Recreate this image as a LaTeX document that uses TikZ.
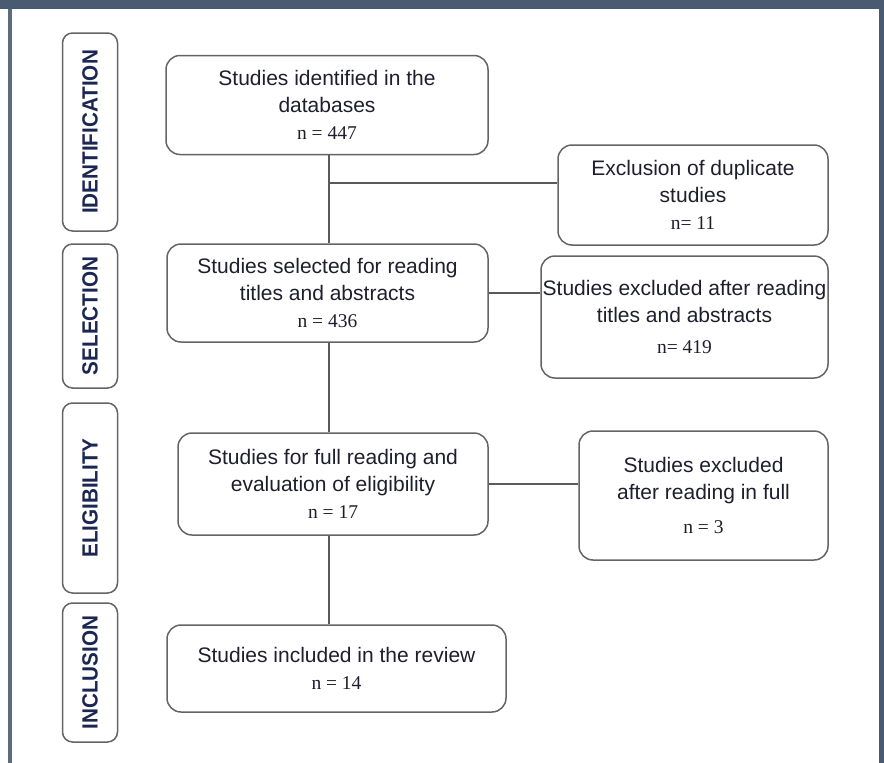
\documentclass[tikz,border=0pt]{standalone}
\usepackage{fontspec}
\setmainfont{Liberation Sans}
\newfontfamily\numfont{Liberation Serif}
\usepackage{graphicx}
\usetikzlibrary{positioning}

\definecolor{framecol}{RGB}{74,90,112}
\definecolor{edgecol}{RGB}{100,100,100}
\definecolor{inkcol}{RGB}{30,30,45}
\definecolor{phasecol}{RGB}{28,38,82}

\newcommand{\nval}[1]{{\numfont\fontsize{19.5}{23}\selectfont #1}}
\newcommand{\phasetxt}[1]{\scalebox{0.94}[1]{#1}}

\begin{document}
\begin{tikzpicture}[x=1pt,y=-1pt]
  \tikzset{BoxStyle/.style   = {shape          = rectangle,
                                rounded corners = 14pt,
                                draw           = edgecol,
                                line width     = 1.5pt,
                                text           = inkcol,
                                align          = center,
                                inner sep      = 0pt,
                                font           = \fontsize{21}{27}\selectfont},
           PhaseStyle/.style = {shape          = rectangle,
                                rounded corners = 10pt,
                                draw           = edgecol,
                                line width     = 1.5pt,
                                text           = phasecol,
                                rotate         = 90,
                                inner sep      = 0pt,
                                font           = \bfseries\fontsize{22}{26}\selectfont},
           boxsize/.style 2 args = {minimum width = #1, minimum height = #2},
           LinkStyle/.style  = {draw = edgecol!90!black, line width = 1.3pt}}
  \useasboundingbox (0,0) rectangle (884,763);
  %%% FRAME %%%
  \fill[framecol] (0,0) rectangle (884,9);
  \fill[framecol!90!white] (8,9) rectangle (12,763);
  \fill[framecol] (879,9) rectangle (884,763);
  %%% PHASES %%%
  \node[PhaseStyle, boxsize={198pt}{55pt}] (pident) at (90,132)   {\phasetxt{IDENTIFICATION}};
  \node[PhaseStyle, boxsize={144pt}{55pt}] (psel)   at (90,316)   {\phasetxt{SELECTION}};
  \node[PhaseStyle, boxsize={190pt}{55pt}] (pelig)  at (90,498)   {\phasetxt{ELIGIBILITY}};
  \node[PhaseStyle, boxsize={139pt}{55pt}] (pincl)  at (90,672.5) {\phasetxt{INCLUSION}};
  %%% MAIN COLUMN %%%
  \node[BoxStyle, boxsize={322pt}{99pt}]  (ident) at (327,105)
       {Studies identified in the\\ databases\\ \nval{n = 447}};
  \node[BoxStyle, boxsize={321pt}{98pt}]  (sel)   at (327.5,293)
       {Studies selected for reading\\ titles and abstracts\\ \nval{n = 436}};
  \node[BoxStyle, boxsize={310pt}{102pt}] (elig)  at (333,484)
       {Studies for full reading and\\ evaluation of eligibility\\ \nval{n = 17}};
  \node[BoxStyle, boxsize={339pt}{87pt}]  (incl)  at (336.5,668.5)
       {Studies included in the review\\ \nval{n = 14}};
  %%% EXCLUSIONS %%%
  \node[BoxStyle, boxsize={270pt}{100pt}] (dup)     at (693,195)
       {Exclusion of duplicate\\ studies\\ \nval{n= 11}};
  \node[BoxStyle, boxsize={287pt}{122pt}] (extitle) at (684.5,317)
       {Studies excluded after reading\\ titles and abstracts\\[4pt] \nval{n= 419}};
  \node[BoxStyle, boxsize={249pt}{129pt}] (exfull)  at (703.5,495.5)
       {Studies excluded\\ after reading in full\\[7pt] \nval{n = 3}};
  %%% LINKS %%%
  \coordinate (spine)  at (329,0);
  \coordinate (branch) at (329,183);
  \draw[LinkStyle] (ident.south -| spine) -- (sel.north -| spine);
  \draw[LinkStyle] (sel.south -| spine)   -- (elig.north -| spine);
  \draw[LinkStyle] (elig.south -| spine)  -- (incl.north -| spine);
  \draw[LinkStyle] (branch) -- (branch -| dup.west);
  \draw[LinkStyle] (sel.east)  -- (sel.east -| extitle.west);
  \draw[LinkStyle] (elig.east) -- (elig.east -| exfull.west);
\end{tikzpicture}
\end{document}
